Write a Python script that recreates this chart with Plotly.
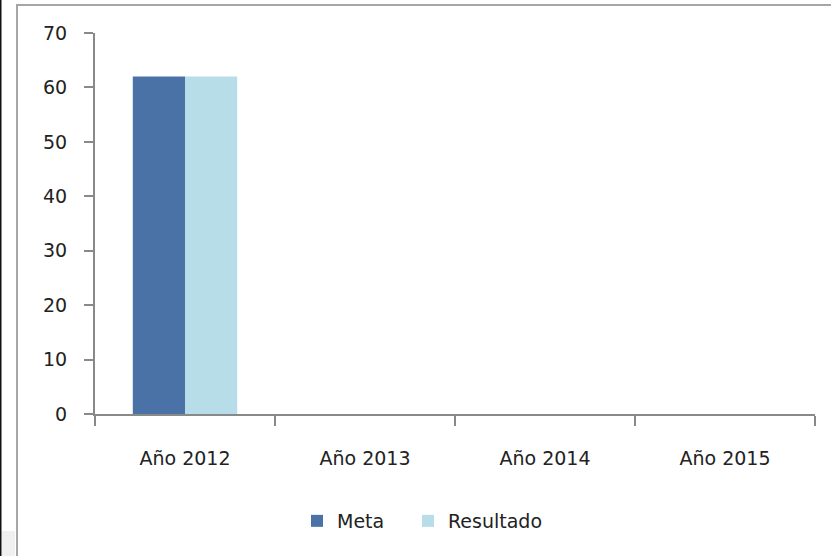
import plotly.graph_objects as go

# Chart data
categories = ["Año 2012", "Año 2013", "Año 2014", "Año 2015"]
meta = [62, None, None, None]
resultado = [62, None, None, None]
y_ticks = [0, 10, 20, 30, 40, 50, 60, 70]

META_COLOR = "#4A72A7"
RESULT_COLOR = "#B7DDE8"
AXIS_COLOR = "#898989"
FONT = "'DejaVu Sans', sans-serif"

W, H = 831, 556
ML, MR, MT, MB = 95, 16, 33, 142
plot_w = W - ML - MR
plot_h = H - MT - MB


def px_to_paper_x(px):
    return (px - ML) / plot_w


def px_to_paper_y(py):
    return (H - MB - py) / plot_h


fig = go.Figure()
fig.add_trace(go.Bar(name="Meta", x=categories, y=meta, legend="legend",
                     marker=dict(color=META_COLOR, line=dict(width=0))))
fig.add_trace(go.Bar(name="Resultado", x=categories, y=resultado, legend="legend2",
                     marker=dict(color=RESULT_COLOR, line=dict(width=0))))

# Outer chart frame
fig.add_shape(
    type="rect", xref="paper", yref="paper",
    x0=px_to_paper_x(17), x1=px_to_paper_x(W + 20),
    y0=px_to_paper_y(H + 20), y1=px_to_paper_y(5),
    line=dict(color="#A6A6A6", width=2), fillcolor="rgba(0,0,0,0)", layer="below",
)
# Dark window edge on the far left and a grey patch at the bottom-left corner
fig.add_shape(
    type="rect", xref="paper", yref="paper",
    x0=px_to_paper_x(0), x1=px_to_paper_x(1.5),
    y0=px_to_paper_y(H + 5), y1=px_to_paper_y(-5),
    line=dict(width=0), fillcolor="#111111", layer="below",
)
fig.add_shape(
    type="rect", xref="paper", yref="paper",
    x0=px_to_paper_x(2), x1=px_to_paper_x(15),
    y0=px_to_paper_y(H + 5), y1=px_to_paper_y(531),
    line=dict(width=0), fillcolor="#F0F0F0", layer="below",
)

legend_style = dict(
    orientation="h", yanchor="middle", y=px_to_paper_y(521), xanchor="left",
    font=dict(size=19), itemwidth=30, bgcolor="rgba(0,0,0,0)",
)

fig.update_layout(
    width=W, height=H,
    margin=dict(l=ML, r=MR, t=MT, b=MB, pad=0),
    paper_bgcolor="white", plot_bgcolor="white",
    barmode="group", bargap=0.42, bargroupgap=0,
    font=dict(family=FONT, size=19, color="#222222"),
    showlegend=True,
    legend=dict(x=px_to_paper_x(297), **legend_style),
    legend2=dict(x=px_to_paper_x(408), **legend_style),
    xaxis=dict(
        range=[-0.5, 3.5], showline=True, linecolor=AXIS_COLOR, linewidth=2,
        ticks="outside", tickson="boundaries", ticklen=10, tickcolor=AXIS_COLOR, tickwidth=2,
        showgrid=False, zeroline=False, ticklabelstandoff=26,
    ),
    yaxis=dict(
        range=[0, 70], tickvals=y_ticks, showline=True, linecolor=AXIS_COLOR, linewidth=2,
        ticks="outside", ticklen=9, tickcolor=AXIS_COLOR, tickwidth=2,
        showgrid=False, zeroline=False, ticklabelstandoff=13,
    ),
)

fig.write_html("out.html")
